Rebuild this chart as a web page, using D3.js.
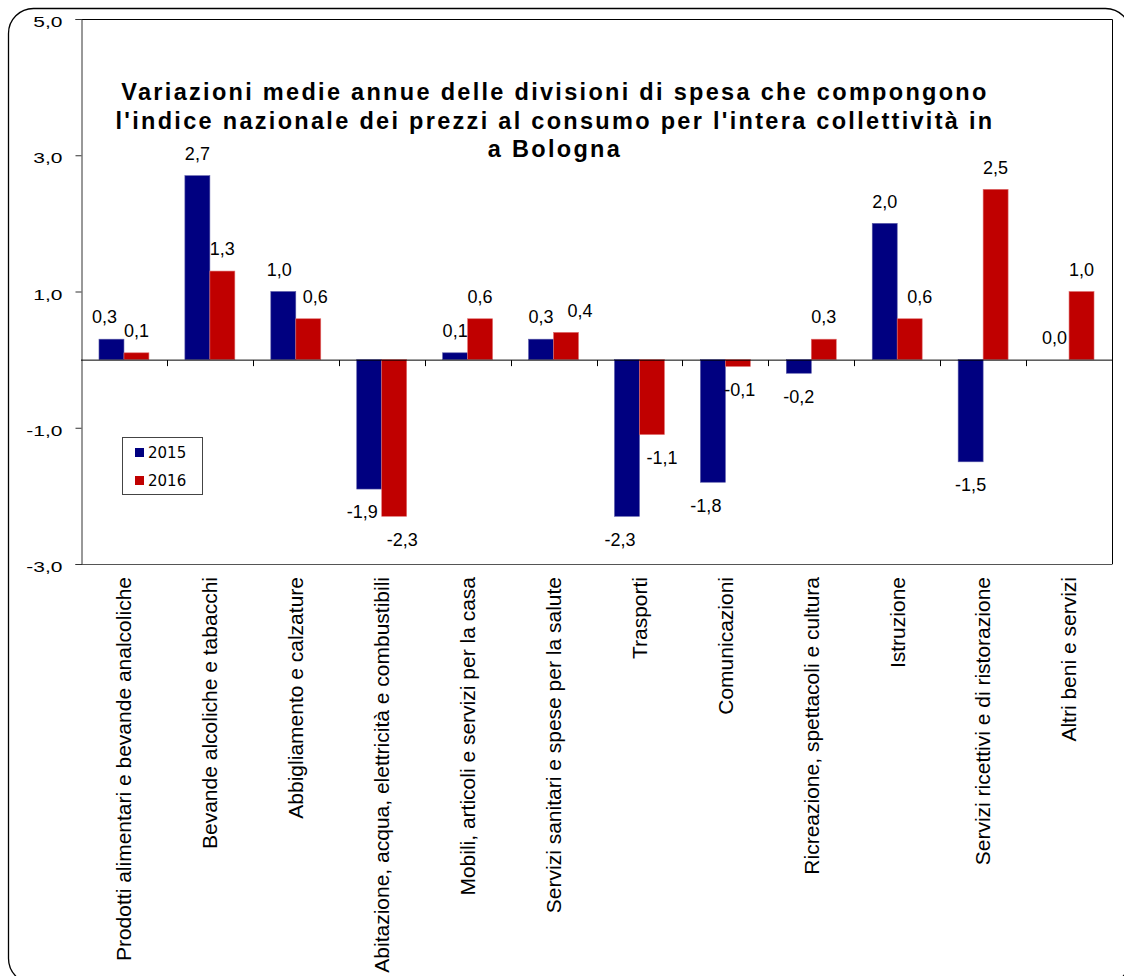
<!DOCTYPE html>
<html>
<head>
<meta charset="utf-8">
<script src="https://cdn.jsdelivr.net/npm/d3@7"></script>
<style>
  html, body { margin: 0; padding: 0; background: #fff; }
  svg { display: block; }
</style>
</head>
<body>
<script>
// Divisioni di spesa (categorie dell'asse X)
const categories = [
  "Prodotti alimentari e bevande analcoliche",
  "Bevande alcoliche e tabacchi",
  "Abbigliamento e calzature",
  "Abitazione, acqua, elettricità e combustibili",
  "Mobili, articoli e servizi per la casa",
  "Servizi sanitari e spese per la salute",
  "Trasporti",
  "Comunicazioni",
  "Ricreazione, spettacoli e cultura",
  "Istruzione",
  "Servizi ricettivi e di ristorazione",
  "Altri beni e servizi"
];
const seriesNames = ["2015", "2016"];
// Variazioni medie annue (%)
const values2015 = [0.3, 2.7, 1.0, -1.9, 0.1, 0.3, -2.3, -1.8, -0.2, 2.0, -1.5, 0.0];
const values2016 = [0.1, 1.3, 0.6, -2.3, 0.6, 0.4, -1.1, -0.1, 0.3, 0.6, 2.5, 1.0];
const yTicks = [-3, -1, 1, 3, 5];
const titleLines = [
  "Variazioni medie annue delle divisioni di spesa che compongono",
  "l'indice nazionale dei prezzi al consumo per l'intera collettività in",
  "a Bologna"
];
// small horizontal nudges of the value labels (px), to keep them clear of neighbours
const labelNudge2015 = [-7, 0, -4, -7, 0, 0, -7, -7, 0, 0, 0, -2];
const labelNudge2016 = [0, 0, 7, 8, 0, 14, 10, 2, 0, 10, 0, 0];

const W = 1124, H = 976;
const colors = { "2015": "#000080", "2016": "#C00000" };
const fmt = v => d3.format(".1f")(v).replace(".", ",").replace("\u2212", "-");

const svg = d3.select("body").append("svg")
  .attr("width", W).attr("height", H);

// outer rounded frame
svg.append("rect")
  .attr("x", 8.5).attr("y", 8.5)
  .attr("width", 1122).attr("height", 975)
  .attr("rx", 25).attr("ry", 25)
  .attr("fill", "#fff").attr("stroke", "#000").attr("stroke-width", 1.3);

const plot = { left: 81, right: 1112, top: 19, bottom: 564 };

const x0 = d3.scaleBand().domain(categories)
  .range([plot.left, plot.right]).paddingInner(0).paddingOuter(0);
const x1 = d3.scaleBand().domain(seriesNames)
  .range([0, x0.bandwidth()]).paddingInner(0).paddingOuter(0.72);
const y = d3.scaleLinear().domain([-3, 5]).range([plot.bottom, plot.top]);

// plot area border (top and right)
svg.append("path")
  .attr("d", `M${plot.left},${plot.top + 0.5}H${plot.right + 0.5}V${plot.bottom}`)
  .attr("fill", "none").attr("stroke", "#000").attr("stroke-width", 1);
svg.append("line")
  .attr("x1", plot.left).attr("x2", plot.right + 0.5)
  .attr("y1", plot.bottom + 0.5).attr("y2", plot.bottom + 0.5)
  .attr("stroke", "#555").attr("stroke-width", 1);

// Y axis (labels drawn in a wide, stretched face)
const labelStretch = 1.4;
const yAxis = svg.append("g")
  .attr("transform", `translate(${plot.left + 0.5},0)`)
  .call(d3.axisLeft(y).tickValues(yTicks).tickSize(6).tickPadding(13).tickFormat(fmt))
  .attr("font-family", null).attr("font-size", null);
yAxis.select(".domain").attr("stroke", "#333");
yAxis.selectAll(".tick line").attr("stroke", "#333");
yAxis.selectAll(".tick text")
  .attr("x", -19 / labelStretch)
  .attr("dy", "0.5em")
  .attr("transform", `scale(${labelStretch},1)`)
  .style("font-family", "'Liberation Sans', Arial, sans-serif")
  .style("font-size", "15px")
  .attr("fill", "#000");

// bars
const rows = categories.map((c, i) => ({
  cat: c, i,
  vals: [
    { key: "2015", v: values2015[i], nudge: labelNudge2015[i] },
    { key: "2016", v: values2016[i], nudge: labelNudge2016[i] }
  ]
}));

const groups = svg.append("g").selectAll("g").data(rows).join("g")
  .attr("transform", d => `translate(${x0(d.cat)},0)`);

groups.selectAll("rect").data(d => d.vals).join("rect")
  .attr("x", d => x1(d.key))
  .attr("width", x1.bandwidth())
  .attr("y", d => y(Math.max(0, d.v)))
  .attr("height", d => Math.abs(y(d.v) - y(0)))
  .attr("fill", d => colors[d.key])
  .attr("stroke", d => d.key === "2015" ? "#5a5aa8" : "#e07070")
  .attr("stroke-width", 0.6);

// value labels
groups.selectAll("text").data(d => d.vals).join("text")
  .attr("x", d => x1(d.key) + x1.bandwidth() / 2 + d.nudge)
  .attr("y", d => d.v >= 0 ? y(d.v) - 22 : y(d.v) + 23)
  .attr("dy", "0.35em")
  .attr("text-anchor", "middle")
  .style("font-family", "'Liberation Sans', Arial, sans-serif")
  .style("font-size", "18px")
  .attr("fill", "#000")
  .text(d => fmt(d.v));

// X axis on the zero line
const xAxis = svg.append("g")
  .attr("transform", `translate(0,${y(0) + 0.5})`);
xAxis.append("line")
  .attr("x1", plot.left).attr("x2", plot.right)
  .attr("stroke", "#000").attr("stroke-width", 1);
xAxis.selectAll("line.tk")
  .data(categories.slice(1)).join("line").attr("class", "tk")
  .attr("x1", d => Math.round(x0(d)) + 0.5).attr("x2", d => Math.round(x0(d)) + 0.5)
  .attr("y1", 0).attr("y2", 6)
  .attr("stroke", "#000");

// category labels under the plot area
svg.append("g").selectAll("text").data(categories).join("text")
  .attr("transform", d => `translate(${x0(d) + x0.bandwidth() / 2},${plot.bottom + 13}) rotate(-90)`)
  .attr("dy", "0.35em")
  .attr("text-anchor", "end")
  .style("font-family", "'Liberation Sans', Arial, sans-serif")
  .style("font-size", "21px")
  .attr("fill", "#000")
  .text(d => d);

// title
svg.append("g").selectAll("text").data(titleLines).join("text")
  .attr("x", 555)
  .attr("y", (d, i) => 100 + i * 28.5)
  .attr("text-anchor", "middle")
  .style("font-family", "'Liberation Sans', Arial, sans-serif")
  .style("font-weight", "bold")
  .style("font-size", "23.5px")
  .style("letter-spacing", "2.3px")
  .attr("fill", "#000")
  .text(d => d);

// legend
const legend = svg.append("g").attr("transform", "translate(122,437)");
legend.append("rect")
  .attr("x", 0.5).attr("y", 0.5).attr("width", 80).attr("height", 57)
  .attr("fill", "#fff").attr("stroke", "#444").attr("stroke-width", 1);
const li = legend.selectAll("g").data(seriesNames).join("g")
  .attr("transform", (d, i) => `translate(13,${11 + i * 28})`);
li.append("rect").attr("width", 9).attr("height", 9).attr("fill", d => colors[d]);
li.append("text")
  .attr("x", 13).attr("y", 9.5)
  .style("font-family", "'DejaVu Sans', Verdana, sans-serif")
  .style("font-size", "15px")
  .attr("fill", "#000")
  .text(d => d);
</script>
</body>
</html>
